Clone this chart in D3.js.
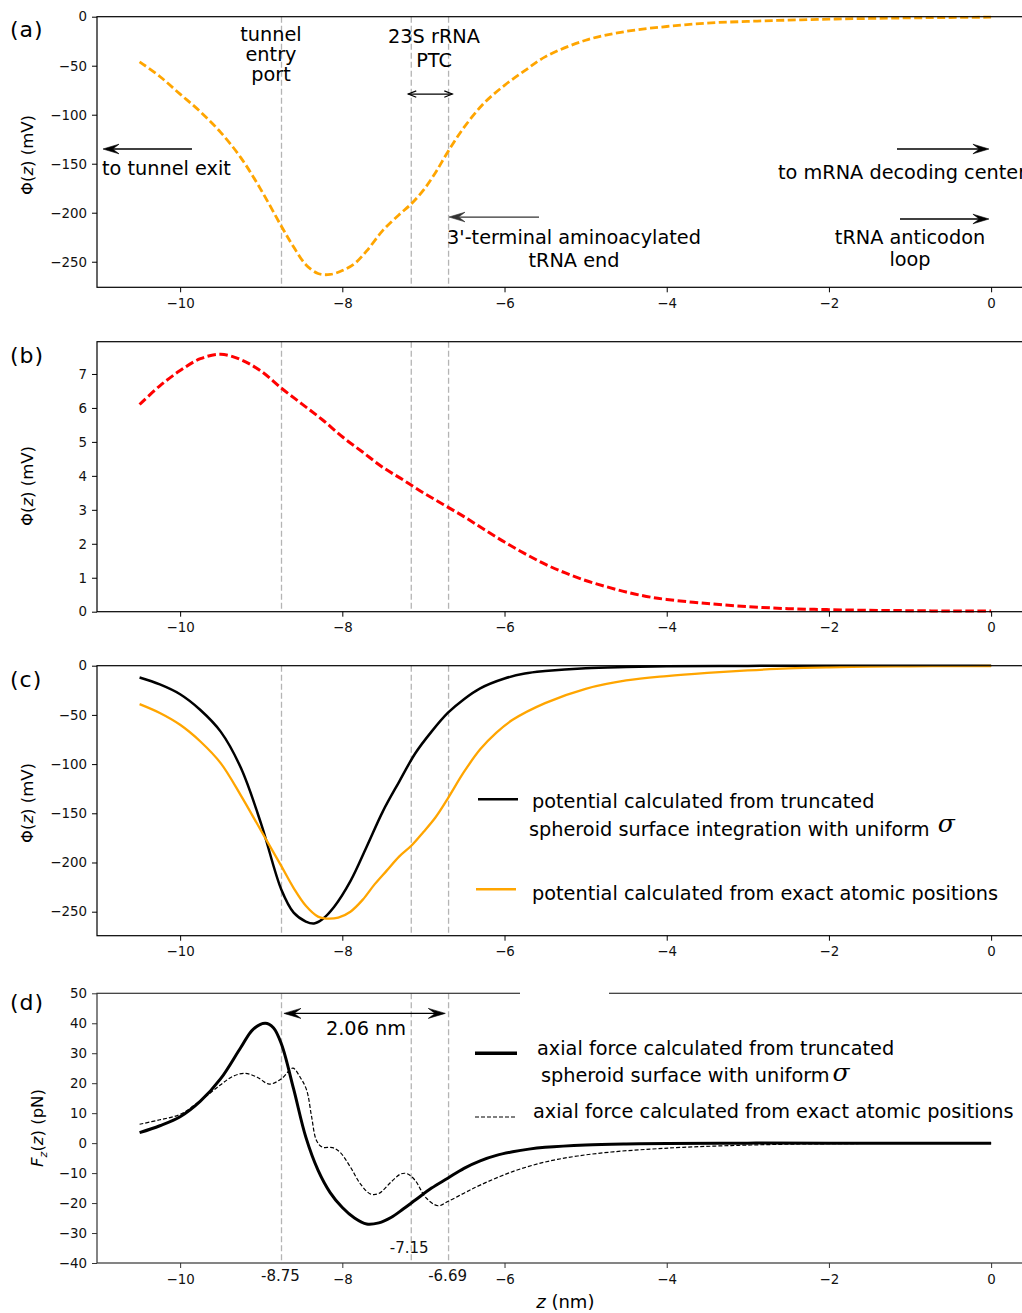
<!DOCTYPE html>
<html><head><meta charset="utf-8">
<script src="https://cdn.jsdelivr.net/npm/d3@7"></script>
<style>
body{margin:0;background:#fff}
svg{display:block}
text{font-family:"DejaVu Sans",sans-serif}
</style>
</head><body>
<svg id="c" width="1022" height="1313"></svg>
<script>
// ---------------- data ----------------
const xTicks = [-10, -8, -6, -4, -2, 0];
const markerZ = [-8.75, -7.15, -6.69];

// (a) potential from exact atomic positions (dashed orange)
const zA = [-10.5,-10.25,-10,-9.75,-9.5,-9.25,-9.0,-8.75,-8.6,-8.45,-8.3,-8.15,-8.0,-7.85,-7.7,-7.5,-7.3,-7.15,-7.0,-6.85,-6.7,-6.5,-6.25,-6.0,-5.75,-5.5,-5.0,-4.5,-4.0,-3.5,-3.0,-2.5,-2.0,-1.5,-1.0,-0.5,0];
const phiA = [-46,-61,-79,-97,-118,-144,-177,-214,-235,-253,-262,-263,-259,-252,-239,-218,-202,-191,-177,-159,-138,-113,-88,-70,-55,-41,-24,-15,-10,-6.5,-4.8,-3.5,-2.5,-1.8,-1.2,-0.8,-0.5];
const yTicksA = [0,-50,-100,-150,-200,-250];

// (b) red dashed
const zB = [-10.5,-10.25,-10,-9.75,-9.5,-9.25,-9.0,-8.75,-8.5,-8.25,-8.0,-7.75,-7.5,-7.25,-7.0,-6.75,-6.5,-6.25,-6.0,-5.75,-5.5,-5.25,-5.0,-4.75,-4.5,-4.25,-4.0,-3.5,-3.0,-2.5,-2.0,-1.5,-1.0,-0.5,0];
const phiB = [6.1,6.65,7.1,7.45,7.58,7.42,7.08,6.58,6.12,5.66,5.15,4.7,4.25,3.88,3.5,3.15,2.8,2.42,2.05,1.71,1.4,1.14,0.92,0.74,0.58,0.45,0.36,0.24,0.15,0.09,0.06,0.04,0.03,0.02,0.02];
const yTicksB = [0,1,2,3,4,5,6,7];

// (c) spheroid (black) and exact atomic (orange)
const zCs = [-10.5,-10.25,-10,-9.75,-9.5,-9.25,-9.0,-8.75,-8.6,-8.45,-8.35,-8.25,-8.1,-7.9,-7.7,-7.5,-7.3,-7.1,-6.9,-6.7,-6.5,-6.3,-6.0,-5.75,-5.5,-5.0,-4.5,-4.0,-3.0,-2.0,-1.0,0];
const phiCs = [-12,-19,-29,-45,-67,-104,-161,-228,-251,-260,-262,-258,-245,-219,-184,-148,-118,-89,-67,-48,-34,-23,-13,-8,-5.5,-2.5,-1.3,-0.6,-0.2,-0.1,0,0];
const zCa = [-10.5,-10.25,-10,-9.75,-9.5,-9.25,-9.0,-8.75,-8.6,-8.45,-8.3,-8.2,-8.05,-7.9,-7.75,-7.6,-7.45,-7.3,-7.15,-7.0,-6.85,-6.7,-6.5,-6.3,-6.1,-5.9,-5.5,-5.0,-4.5,-4.0,-3.5,-3.0,-2.5,-2.0,-1.5,-1.0,-0.5,0];
const phiCa = [-39,-48,-60,-77,-99,-132,-168,-204,-226,-244,-255,-257,-256,-250,-238,-222,-208,-194,-183,-169,-154,-135,-108,-85,-68,-55,-38,-23.5,-15,-10.5,-7.3,-4.8,-2.8,-1.7,-1.0,-0.6,-0.4,-0.3];
const yTicksC = [0,-50,-100,-150,-200,-250];

// (d) axial force: spheroid (solid) and exact atomic (dashed)
const zDs = [-10.5,-10.25,-10,-9.75,-9.5,-9.25,-9.1,-8.95,-8.85,-8.75,-8.6,-8.45,-8.3,-8.15,-8.0,-7.85,-7.7,-7.55,-7.4,-7.25,-7.1,-6.9,-6.7,-6.5,-6.3,-6.1,-5.9,-5.7,-5.5,-5.0,-4.5,-4.0,-3.0,-2.0,-1.0,0];
const fzS = [3.5,5.8,8.8,14,21.5,32,38,40,38.5,33,18,2,-9,-16.5,-21.5,-25,-27,-26.6,-24.8,-22,-19,-15,-11.7,-8.4,-5.9,-4.1,-2.9,-2.0,-1.4,-0.6,-0.25,-0.1,0,0,0,0];
const zDa = [-10.5,-10.25,-10,-9.75,-9.5,-9.35,-9.2,-9.05,-8.9,-8.75,-8.61,-8.52,-8.44,-8.38,-8.32,-8.25,-8.12,-8.03,-7.9,-7.78,-7.65,-7.55,-7.4,-7.28,-7.2,-7.1,-6.97,-6.82,-6.7,-6.5,-6.3,-5.9,-5.5,-5.1,-4.66,-4.2,-3.8,-3.2,-2.6,-2.0,-1.0,0];
const fzA = [6.3,7.8,9.6,14.2,19.5,22.3,23.3,22,19.7,21.5,25,22,17.7,9,1,-1.3,-1.5,-3,-8,-13.5,-17,-16.8,-13,-10.3,-10.2,-12.5,-18.2,-20.9,-19.5,-16.7,-14,-9.5,-6.3,-4.3,-2.9,-2,-1.4,-0.8,-0.4,-0.2,-0.05,0];
const yTicksD = [-40,-30,-20,-10,0,10,20,30,40,50];
const markerLabels = ["-8.75", "-7.15", "-6.69"];

// ---------------- drawing ----------------
const svg = d3.select('#c');
const x = d3.scaleLinear().domain([-11.025, 0.525]).range([97, 1033.7]);
const fmt = d3.format('d');
const FS = 19.3;

function panel(cfg) {
  const y = d3.scaleLinear().domain(cfg.domain).range([cfg.bottom, cfg.top]);
  const g = svg.append('g');
  markerZ.forEach(z => {
    g.append('line').attr('x1', x(z)).attr('x2', x(z))
      .attr('y1', cfg.top).attr('y2', cfg.bottom)
      .attr('stroke', '#b4b4b4').attr('stroke-width', 1.3).attr('stroke-dasharray', '6,3');
  });
  cfg.series.forEach(s => {
    const line = d3.line().x((d, i) => x(s.z[i])).y(d => y(d)).curve(d3.curveCatmullRom.alpha(0.5));
    g.append('path').datum(s.v).attr('d', line).attr('fill', 'none')
      .attr('stroke', s.color).attr('stroke-width', s.width)
      .attr('stroke-dasharray', s.dash || null).attr('stroke-linecap', 'butt');
  });
  const ax = g.append('g').attr('transform', `translate(0,${cfg.bottom})`)
    .call(d3.axisBottom(x).tickValues(xTicks).tickSize(5).tickPadding(6).tickFormat(fmt));
  const ay = g.append('g').attr('transform', `translate(${x.range()[0]},0)`)
    .call(d3.axisLeft(y).tickValues(cfg.yTicks).tickSize(5).tickPadding(5).tickFormat(fmt));
  [ax, ay].forEach(a => {
    a.select('.domain').remove();
    a.selectAll('text').attr('font-family', '"DejaVu Sans",sans-serif').attr('font-size', 13.4).attr('fill', '#111');
    a.selectAll('line').attr('stroke', cfg.spine).attr('stroke-width', 1);
  });
  g.append('rect').attr('x', x.range()[0]).attr('y', cfg.top)
    .attr('width', x.range()[1] - x.range()[0]).attr('height', cfg.bottom - cfg.top)
    .attr('fill', 'none').attr('stroke', cfg.spine).attr('stroke-width', 1.2);
  g.append('text').attr('x', 10).attr('y', cfg.labelY).attr('font-size', 22)
    .attr('letter-spacing', 1).text(cfg.label);
  return {g, y};
}

function yLabel(g, cx, cy, parts) {
  const t = g.append('text').attr('transform', `translate(${cx},${cy}) rotate(-90)`)
    .attr('text-anchor', 'middle').attr('dy', '0.35em').attr('font-size', 16.5);
  parts.forEach(p => {
    const ts = t.append('tspan').text(p.t);
    if (p.i) ts.attr('font-style', 'italic');
  });
}

function arrow(g, x1, y1, x2, y2, o) {
  o = Object.assign({start: false, end: true, L: 15, W: 5, color: '#000', sw: 1.3, open: false}, o);
  const dx = x2 - x1, dy = y2 - y1, len = Math.hypot(dx, dy), ux = dx / len, uy = dy / len;
  const nx = -uy, ny = ux;
  let sx = x1, sy = y1, ex = x2, ey = y2;
  const head = (tx, ty, dirx, diry) => {
    const bx = tx - dirx * o.L, by = ty - diry * o.L;
    if (o.open) {
      g.append('path').attr('d', `M${bx + nx * o.W},${by + ny * o.W}L${tx},${ty}L${bx - nx * o.W},${by - ny * o.W}`)
        .attr('fill', 'none').attr('stroke', o.color).attr('stroke-width', o.sw);
    } else {
      const mx = tx - dirx * o.L * 0.6, my = ty - diry * o.L * 0.6;
      g.append('path').attr('d', `M${tx},${ty}L${bx + nx * o.W},${by + ny * o.W}L${mx},${my}L${bx - nx * o.W},${by - ny * o.W}Z`)
        .attr('fill', o.color).attr('stroke', o.color).attr('stroke-width', 0.6);
    }
  };
  if (o.end) { head(x2, y2, ux, uy); if (!o.open) { ex = x2 - ux * o.L * 0.6; ey = y2 - uy * o.L * 0.6; } }
  if (o.start) { head(x1, y1, -ux, -uy); if (!o.open) { sx = x1 + ux * o.L * 0.6; sy = y1 + uy * o.L * 0.6; } }
  g.append('line').attr('x1', sx).attr('y1', sy).attr('x2', ex).attr('y2', ey)
    .attr('stroke', o.color).attr('stroke-width', o.sw);
}

function textLines(g, lines, o) {
  const step = o.dy || 0;
  lines.forEach((l, i) => {
    g.append('text').attr('x', o.x).attr('y', o.y + i * step)
      .attr('text-anchor', o.anchor || 'middle').attr('font-size', o.size || FS).text(l);
  });
}

// ---- (a)
const A = panel({top: 16.7, bottom: 287.3, domain: [-276.1, 0], yTicks: yTicksA, spine: '#000', label: '(a)', labelY: 37,
  series: [{z: zA, v: phiA, color: 'orange', width: 2.8, dash: '8,3.5'}]});
yLabel(A.g, 27.5, 155, [{t: 'Φ('}, {t: 'z', i: true}, {t: ') (mV)'}]);
textLines(A.g, ['tunnel', 'entry', 'port'], {x: 271, y: 41, dy: 20});
textLines(A.g, ['23S rRNA', 'PTC'], {x: 434, y: 43, dy: 24});
arrow(A.g, x(-7.187), A.y(-78.9), x(-6.644), A.y(-78.9), {start: true, open: true, L: 8, W: 3.2, sw: 1.2});
arrow(A.g, x(-9.854), A.y(-135), x(-10.951), A.y(-135), {L: 16, W: 4.8});
textLines(A.g, ['to tunnel exit'], {x: 102, y: 175, anchor: 'start'});
arrow(A.g, x(-5.575), A.y(-204.4), x(-6.685), A.y(-204.4), {L: 16, W: 4.8, color: '#333'});
textLines(A.g, ["3'-terminal aminoacylated", 'tRNA end'], {x: 574, y: 244, dy: 23});
arrow(A.g, x(-1.161), A.y(-135), x(-0.027), A.y(-135), {L: 16, W: 4.8});
textLines(A.g, ['to mRNA decoding center'], {x: 778, y: 179, anchor: 'start'});
arrow(A.g, x(-1.124), A.y(-206.4), x(-0.027), A.y(-206.4), {L: 16, W: 4.8});
textLines(A.g, ['tRNA anticodon', 'loop'], {x: 910, y: 244, dy: 22});

// ---- (b)
const B = panel({top: 341.7, bottom: 611.7, domain: [0, 7.95], yTicks: yTicksB, spine: '#000', label: '(b)', labelY: 363,
  series: [{z: zB, v: phiB, color: 'red', width: 3, dash: '8.5,3.5'}]});
yLabel(B.g, 27.5, 486, [{t: 'Φ('}, {t: 'z', i: true}, {t: ') (mV)'}]);

// ---- (c)
const C = panel({top: 665.7, bottom: 935.7, domain: [-274.4, 0], yTicks: yTicksC, spine: '#000', label: '(c)', labelY: 687,
  series: [
    {z: zCs, v: phiCs, color: '#000', width: 2.5},
    {z: zCa, v: phiCa, color: 'orange', width: 2.3}
  ]});
yLabel(C.g, 27.5, 803, [{t: 'Φ('}, {t: 'z', i: true}, {t: ') (mV)'}]);
C.g.append('line').attr('x1', 478).attr('x2', 518).attr('y1', 799.3).attr('y2', 799.3).attr('stroke', '#000').attr('stroke-width', 2.6);
C.g.append('line').attr('x1', 476).attr('x2', 516).attr('y1', 889.3).attr('y2', 889.3).attr('stroke', 'orange').attr('stroke-width', 2.4);
textLines(C.g, ['potential calculated from truncated'], {x: 532, y: 808, anchor: 'start'});
{
  const t = C.g.append('text').attr('x', 529).attr('y', 835.7).attr('font-size', FS).text('spheroid surface integration with uniform ');
  t.append('tspan').attr('font-family', '"DejaVu Serif",serif').attr('font-style', 'italic').attr('font-size', 25).attr('dx', 2).attr('dy', -4).text('σ');
}
textLines(C.g, ['potential calculated from exact atomic positions'], {x: 532, y: 900, anchor: 'start'});

// ---- (d)
const D = panel({top: 993.3, bottom: 1263, domain: [-40, 50], yTicks: yTicksD, spine: '#333', label: '(d)', labelY: 1010,
  series: [
    {z: zDs, v: fzS, color: '#000', width: 3},
    {z: zDa, v: fzA, color: '#000', width: 1.2, dash: '4,2'}
  ]});
D.g.append('rect').attr('x', 520).attr('y', 991).attr('width', 89).attr('height', 4.5).attr('fill', '#fff');
{
  const t = D.g.append('text').attr('transform', `translate(37.5,1128) rotate(-90)`)
    .attr('text-anchor', 'middle').attr('dy', '0.35em').attr('font-size', 16.5);
  t.append('tspan').attr('font-style', 'italic').text('F');
  t.append('tspan').attr('font-style', 'italic').attr('font-size', 11).attr('dy', 4).text('z');
  t.append('tspan').attr('dy', -4).text('(');
  t.append('tspan').attr('font-style', 'italic').text('z');
  t.append('tspan').text(') (pN)');
}
markerZ.forEach((z, i) => {
  const isMid = i === 1;
  D.g.append('text').attr('x', x(z) + (isMid ? -2 : -1)).attr('y', isMid ? 1253 : 1281)
    .attr('text-anchor', 'middle').attr('font-family', '"Liberation Sans",Arial,sans-serif')
    .attr('font-size', 15).attr('fill', '#111').text(markerLabels[i]);
});
arrow(D.g, x(-8.72), D.y(43.3), x(-6.73), D.y(43.3), {start: true, L: 17, W: 5, sw: 1.4});
textLines(D.g, ['2.06 nm'], {x: 366, y: 1035});
D.g.append('line').attr('x1', 475).attr('x2', 517).attr('y1', 1053.3).attr('y2', 1053.3).attr('stroke', '#000').attr('stroke-width', 3.4);
D.g.append('line').attr('x1', 475).attr('x2', 515).attr('y1', 1117).attr('y2', 1117).attr('stroke', '#000').attr('stroke-width', 1.2).attr('stroke-dasharray', '4,2');
textLines(D.g, ['axial force calculated from truncated'], {x: 537, y: 1055, anchor: 'start'});
{
  const t = D.g.append('text').attr('x', 541).attr('y', 1081.7).attr('font-size', FS).text('spheroid surface with uniform');
  t.append('tspan').attr('font-family', '"DejaVu Serif",serif').attr('font-style', 'italic').attr('font-size', 25).attr('dx', 3).attr('dy', -1).text('σ');
}
textLines(D.g, ['axial force calculated from exact atomic positions'], {x: 533, y: 1118.3, anchor: 'start'});
{
  const t = D.g.append('text').attr('x', (x.range()[0] + x.range()[1]) / 2).attr('y', 1308)
    .attr('text-anchor', 'middle').attr('font-family', '"Liberation Sans",Arial,sans-serif').attr('font-size', 18);
  t.append('tspan').attr('font-style', 'italic').text('z');
  t.append('tspan').text(' (nm)');
}
</script>
</body></html>
